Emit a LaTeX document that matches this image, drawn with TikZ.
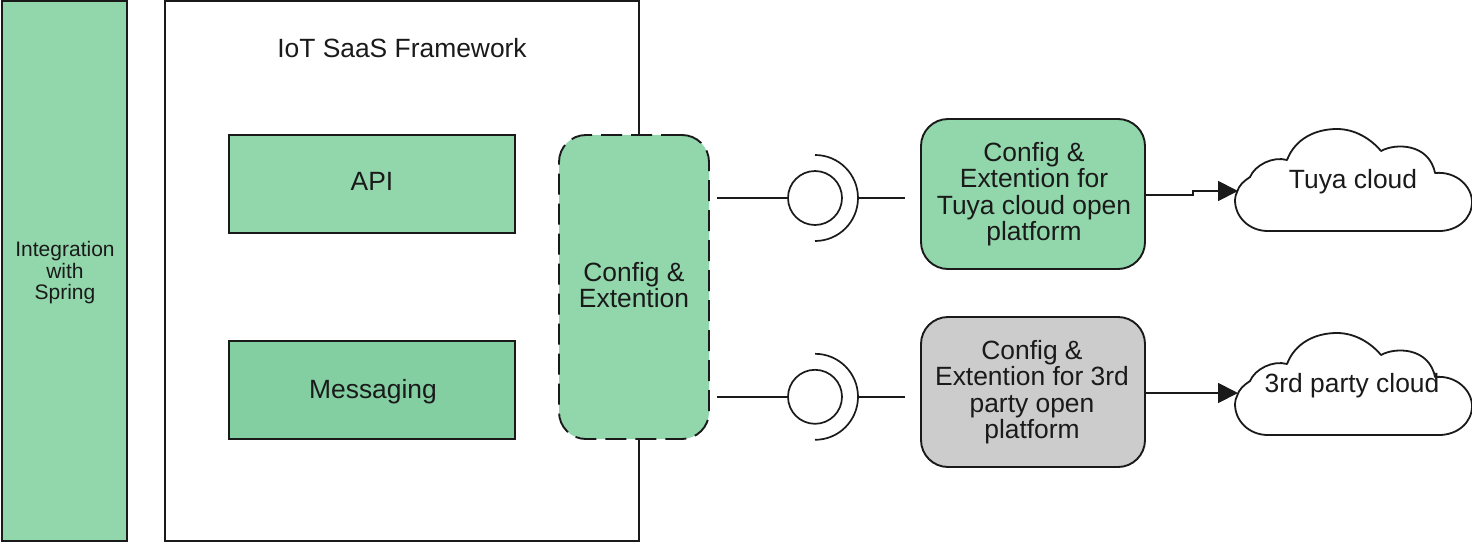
\documentclass[tikz,border=0pt]{standalone}
\usepackage{fontspec}
\setmainfont{Liberation Sans}
\usetikzlibrary{arrows.meta}
\definecolor{gfill}{HTML}{91D7AB}
\definecolor{mfill}{HTML}{84CFA2}
\definecolor{grayfill}{HTML}{CCCCCC}
\definecolor{ink}{HTML}{1A1A1A}
\tikzset{
  base/.style={draw=ink,line width=1.9pt,outer sep=0pt,inner sep=0pt,align=center,text=ink,font=\fontsize{26.4}{26.6}\selectfont},
  plainbox/.style={base,rectangle},
  roundbox/.style={base,rectangle,rounded corners=27pt,minimum width=224pt,minimum height=150pt},
  conn/.style={draw=ink,line width=1.8pt},
  arrowconn/.style={conn,-{Triangle[length=20pt,width=20pt]}},
  thin conn/.style={draw=ink,line width=1.7pt},
  cloudshape/.style={draw=ink,line width=1.8pt,fill=white,line join=round},
  cloudtext/.style={align=center,inner sep=0pt,outer sep=0pt,text=ink,font=\fontsize{26.4}{26.6}\selectfont},
  ring/.style={draw=ink,line width=1.7pt,circle,fill=white,minimum size=54pt,inner sep=0pt,outer sep=0pt},
}
% cloud outline, origin at top-left of its box
\newcommand{\cloudoutline}[2]{%
  \path[cloudshape,shift={(#1,#2)}]
    (2,63) .. controls (4,56) and (9,52) .. (15,48)
    .. controls (20,36) and (38,27) .. (52,31)
    .. controls (60,10) and (80,0) .. (102,0)
    .. controls (120,0) and (136,10) .. (146,22)
    .. controls (160,14) and (194,14) .. (200,44)
    .. controls (222,42) and (237,58) .. (237,73)
    .. controls (237,90) and (222,102) .. (204,102)
    -- (33,102)
    .. controls (14,102) and (0,88) .. (0,71)
    .. controls (0,68) and (1,65) .. (2,63)
    -- cycle;}
\begin{document}
\begin{tikzpicture}[x=1pt,y=-1pt]
\useasboundingbox (0,0) rectangle (1472,544);
\fill[white] (0,0) rectangle (1472,544);

\node[plainbox,fill=gfill,minimum width=125pt,minimum height=540pt] (spring) at (64.5,271) {};
\node[cloudtext,font=\fontsize{21}{21.7}\selectfont] (springtext) at (65,272.7) {Integration\\with\\Spring};
\node[plainbox,fill=white,minimum width=474pt,minimum height=540pt] (frame) at (402,271) {};
\node[cloudtext] (frametitle) at (402,48) {IoT SaaS Framework};
\node[plainbox,fill=gfill,minimum width=286pt,minimum height=98pt] (api) at (372,184) {};
\node[cloudtext] (apitext) at (372,181) {API};
\node[plainbox,fill=mfill,minimum width=286pt,minimum height=98pt] (msg) at (372,390) {};
\node[cloudtext] (msgtext) at (373,392) {Messaging};
\node[base,rectangle,rounded corners=27pt,fill=gfill,dash pattern=on 21pt off 9pt,minimum width=150pt,minimum height=304pt] (cfg) at (634,287) {};
\node[cloudtext,font=\fontsize{26.4}{26}\selectfont] (cfgtext) at (634,285.5) {Config \&\\Extention};

\node[roundbox,fill=gfill] (tuya) at (1033,194) {};
\node[cloudtext] (tuyatext) at (1034,194.2) {Config \&\\Extention for\\Tuya cloud open\\platform};
\node[roundbox,fill=grayfill] (third) at (1033,392) {};
\node[cloudtext] (thirdtext) at (1032,392.2) {Config \&\\Extention for 3rd\\party open\\platform};

% interfaces
\coordinate (a1) at (717,198);
\coordinate (b1) at (905,198);
\coordinate (a2) at (717,396.8);
\coordinate (b2) at (905,396.8);
\node[ring] (r1) at (815,198) {};
\node[ring] (r2) at (815,396.8) {};
\coordinate (s1) at (858,198);
\coordinate (s2) at (858,396.8);
\draw[thin conn] (a1) -- (r1.west);
\draw[thin conn] (s1) -- (b1);
\draw[thin conn] (a2) -- (r2.west);
\draw[thin conn] (s2) -- (b2);
\draw[thin conn] (815,155) arc[start angle=90,end angle=-90,radius=43pt];
\draw[thin conn] (815,353.8) arc[start angle=90,end angle=-90,radius=43pt];

% clouds
\cloudoutline{1235}{129}
\cloudoutline{1235}{333}
\node[cloudtext] (tuyacloud) at (1353,182) {Tuya cloud};
\node[cloudtext] (thirdcloud) at (1352,386) {3rd party cloud};
\coordinate (t1) at (1238,191);
\coordinate (t2) at (1238,393);
\draw[arrowconn] (tuya.east |- 0,195) -- (1193,195) -- (1193,191) -- (t1);
\draw[arrowconn] (third.east |- 0,393) -- (t2);
\end{tikzpicture}
\end{document}
